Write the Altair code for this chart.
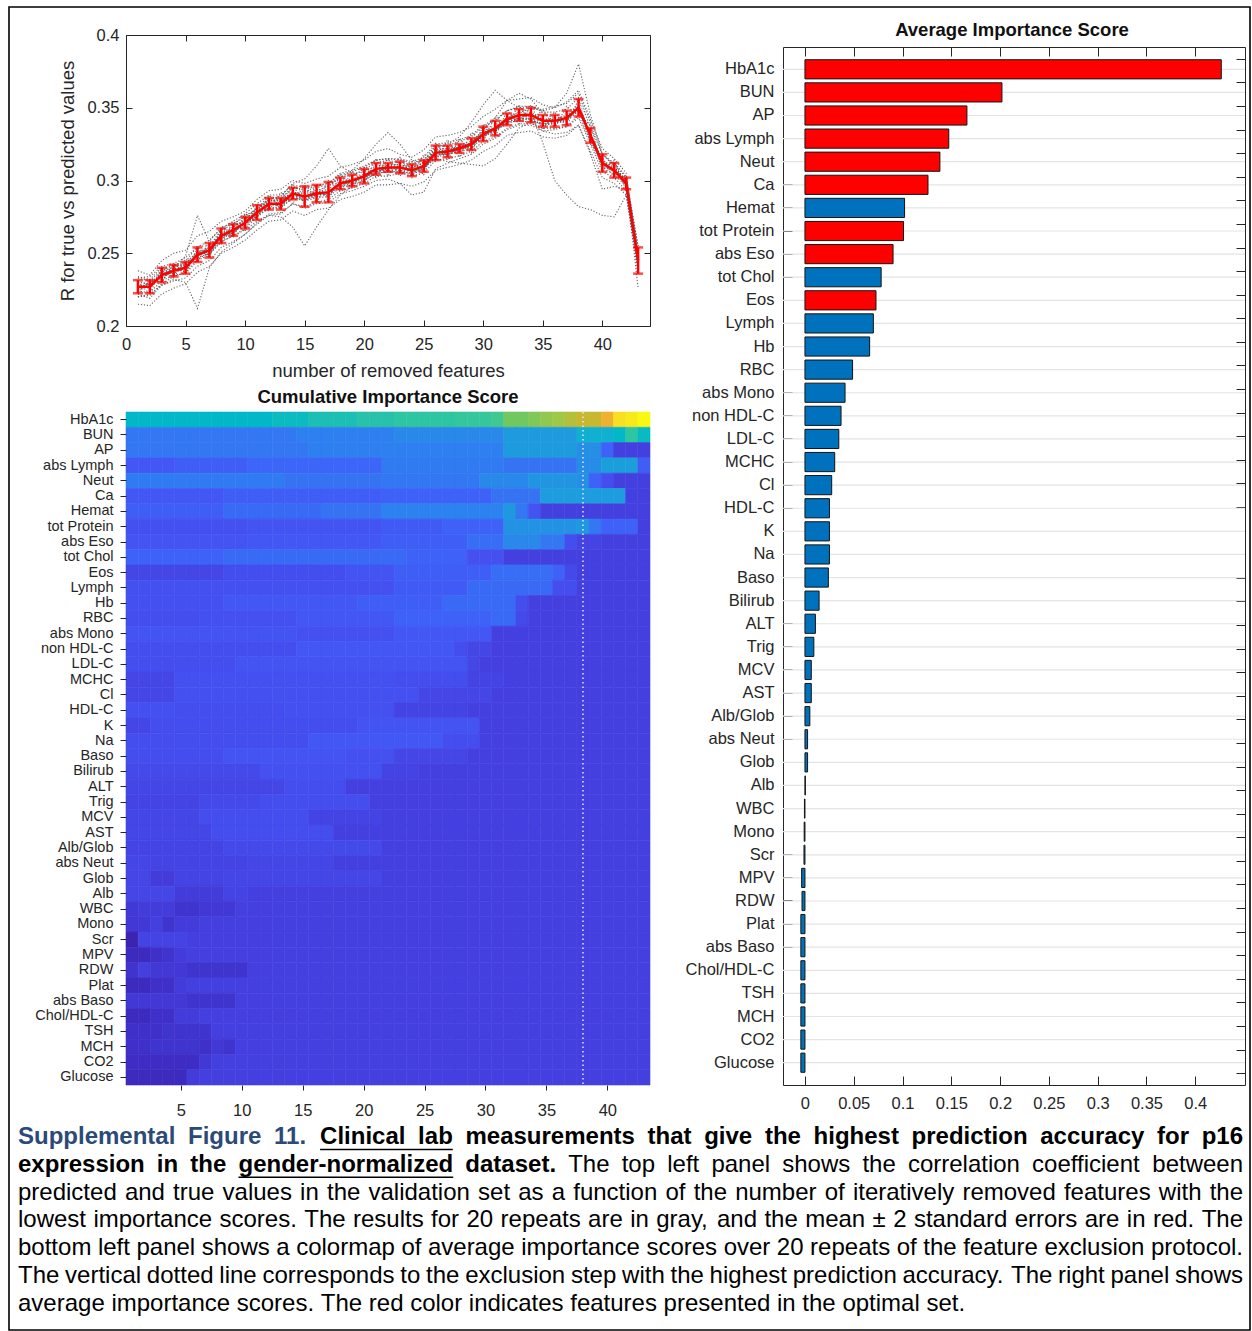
import altair as alt
import pandas as pd

W, H = 1252, 1331
FONT = "Liberation Sans"
INK = "#262626"

# ---------------- data ----------------
FEATURES = ["HbA1c", "BUN", "AP", "abs Lymph", "Neut", "Ca", "Hemat", "tot Protein", "abs Eso",
            "tot Chol", "Eos", "Lymph", "Hb", "RBC", "abs Mono", "non HDL-C", "LDL-C", "MCHC", "Cl",
            "HDL-C", "K", "Na", "Baso", "Bilirub", "ALT", "Trig", "MCV", "AST", "Alb/Glob", "abs Neut",
            "Glob", "Alb", "WBC", "Mono", "Scr", "MPV", "RDW", "Plat", "abs Baso", "Chol/HDL-C", "TSH",
            "MCH", "CO2", "Glucose"]

AVG_SCORE = [0.4267, 0.2019, 0.1660, 0.1474, 0.1383, 0.1261, 0.1021, 0.1010, 0.0903, 0.0781,
             0.0728, 0.0701, 0.0663, 0.0488, 0.0411, 0.0370, 0.0347, 0.0305, 0.0274, 0.0251,
             0.0251, 0.0251, 0.0240, 0.0145, 0.0107, 0.0091, 0.0065, 0.0065, 0.0050, 0.0027,
             0.0027, 0.0004, -0.0005, -0.0008, -0.0010, -0.0034, -0.0030, -0.0042, -0.0042,
             -0.0042, -0.0042, -0.0042, -0.0042, -0.0042]

OPTIMAL_SET = ["HbA1c", "BUN", "AP", "abs Lymph", "Neut", "Ca", "tot Protein", "abs Eso", "Eos"]

STEPS = list(range(1, 44))
MEAN_R = [0.227, 0.227, 0.235, 0.238, 0.240, 0.249, 0.252, 0.262, 0.266, 0.271, 0.278, 0.284,
          0.284, 0.291, 0.289, 0.291, 0.292, 0.298, 0.300, 0.303, 0.308, 0.309, 0.309, 0.307,
          0.310, 0.319, 0.320, 0.322, 0.325, 0.332, 0.336, 0.342, 0.345, 0.345, 0.341, 0.341,
          0.343, 0.350, 0.331, 0.312, 0.307, 0.298, 0.245]
ERR_2SE = [0.0045, 0.0045, 0.005, 0.004, 0.004, 0.005, 0.005, 0.005, 0.004, 0.004, 0.005, 0.004,
           0.004, 0.004, 0.007, 0.006, 0.007, 0.004, 0.004, 0.005, 0.004, 0.003, 0.004, 0.004,
           0.004, 0.005, 0.004, 0.003, 0.004, 0.005, 0.005, 0.004, 0.004, 0.005, 0.004, 0.004,
           0.005, 0.006, 0.005, 0.006, 0.005, 0.004, 0.009]

REPEATS = [
    [0.238,0.235,0.245,0.250,0.252,0.262,0.265,0.272,0.275,0.279,0.287,0.293,0.294,0.300,0.298,0.301,0.303,0.309,0.311,0.314,0.320,0.322,0.318,0.316,0.321,0.330,0.331,0.333,0.337,0.344,0.349,0.355,0.356,0.357,0.352,0.350,0.354,0.362,0.342,0.322,0.315,0.305,0.250],
    [0.215,0.214,0.222,0.226,0.229,0.237,0.241,0.250,0.254,0.259,0.266,0.272,0.273,0.279,0.276,0.280,0.281,0.287,0.289,0.292,0.297,0.297,0.298,0.296,0.299,0.307,0.309,0.311,0.314,0.320,0.324,0.331,0.333,0.334,0.330,0.329,0.331,0.338,0.320,0.302,0.298,0.290,0.238],
    [0.230,0.222,0.240,0.233,0.246,0.244,0.258,0.256,0.272,0.265,0.284,0.279,0.292,0.284,0.297,0.285,0.300,0.293,0.306,0.298,0.315,0.303,0.316,0.302,0.318,0.313,0.328,0.316,0.333,0.327,0.344,0.338,0.352,0.340,0.349,0.336,0.351,0.345,0.338,0.307,0.314,0.293,0.248],
    [0.224,0.229,0.231,0.240,0.237,0.251,0.249,0.264,0.263,0.274,0.275,0.286,0.281,0.293,0.286,0.294,0.289,0.300,0.297,0.305,0.305,0.311,0.306,0.309,0.307,0.321,0.317,0.324,0.322,0.334,0.333,0.344,0.342,0.347,0.326,0.300,0.290,0.282,0.280,0.276,0.275,0.290,0.240],
    [0.233,0.231,0.238,0.242,0.244,0.255,0.255,0.266,0.270,0.275,0.281,0.289,0.287,0.296,0.292,0.296,0.296,0.303,0.303,0.308,0.312,0.314,0.312,0.311,0.314,0.324,0.324,0.327,0.330,0.337,0.341,0.348,0.350,0.351,0.348,0.350,0.360,0.380,0.345,0.318,0.311,0.302,0.255],
    [0.228,0.226,0.238,0.240,0.248,0.276,0.258,0.268,0.270,0.276,0.280,0.287,0.286,0.290,0.286,0.290,0.292,0.296,0.300,0.302,0.306,0.308,0.310,0.306,0.309,0.318,0.318,0.320,0.324,0.330,0.335,0.340,0.343,0.342,0.338,0.340,0.341,0.349,0.330,0.310,0.306,0.297,0.243],
    [0.220,0.222,0.228,0.232,0.230,0.212,0.240,0.251,0.257,0.263,0.271,0.277,0.278,0.284,0.282,0.285,0.287,0.293,0.295,0.298,0.303,0.303,0.305,0.303,0.305,0.314,0.315,0.317,0.320,0.327,0.330,0.336,0.339,0.339,0.336,0.336,0.337,0.345,0.327,0.309,0.304,0.296,0.242],
    [0.226,0.230,0.234,0.239,0.242,0.248,0.252,0.261,0.267,0.270,0.279,0.283,0.286,0.290,0.292,0.293,0.296,0.302,0.307,0.315,0.325,0.333,0.325,0.314,0.312,0.321,0.322,0.324,0.327,0.334,0.338,0.343,0.347,0.346,0.342,0.342,0.345,0.352,0.333,0.314,0.309,0.300,0.247],
    [0.229,0.226,0.236,0.236,0.241,0.247,0.250,0.258,0.262,0.266,0.272,0.276,0.275,0.268,0.255,0.268,0.280,0.290,0.296,0.300,0.305,0.306,0.306,0.304,0.308,0.316,0.318,0.320,0.322,0.330,0.334,0.340,0.343,0.343,0.339,0.340,0.342,0.349,0.330,0.311,0.306,0.297,0.244],
    [0.231,0.228,0.236,0.238,0.238,0.249,0.254,0.263,0.268,0.273,0.281,0.287,0.289,0.298,0.301,0.310,0.322,0.310,0.305,0.306,0.310,0.311,0.311,0.309,0.312,0.320,0.321,0.323,0.326,0.333,0.336,0.342,0.345,0.345,0.342,0.342,0.343,0.350,0.331,0.312,0.307,0.298,0.246],
    [0.226,0.229,0.234,0.237,0.241,0.250,0.251,0.260,0.264,0.271,0.277,0.283,0.283,0.290,0.289,0.290,0.291,0.297,0.299,0.302,0.307,0.308,0.310,0.308,0.312,0.322,0.325,0.330,0.340,0.352,0.362,0.355,0.350,0.347,0.342,0.340,0.342,0.350,0.331,0.312,0.308,0.299,0.246],
    [0.222,0.219,0.228,0.231,0.233,0.241,0.245,0.254,0.258,0.263,0.270,0.276,0.277,0.284,0.281,0.284,0.285,0.291,0.293,0.296,0.300,0.301,0.298,0.290,0.292,0.308,0.312,0.315,0.318,0.325,0.329,0.335,0.338,0.338,0.334,0.335,0.337,0.343,0.325,0.306,0.302,0.293,0.241],
    [0.233,0.234,0.241,0.243,0.247,0.254,0.259,0.267,0.272,0.277,0.284,0.290,0.290,0.297,0.295,0.297,0.298,0.304,0.306,0.309,0.314,0.315,0.315,0.313,0.316,0.325,0.326,0.328,0.331,0.338,0.342,0.348,0.351,0.351,0.347,0.347,0.349,0.357,0.337,0.318,0.312,0.303,0.251],
    [0.228,0.226,0.236,0.239,0.239,0.250,0.253,0.261,0.265,0.270,0.276,0.283,0.284,0.289,0.288,0.290,0.291,0.298,0.299,0.302,0.307,0.308,0.309,0.306,0.309,0.315,0.313,0.312,0.311,0.310,0.315,0.325,0.336,0.340,0.339,0.341,0.342,0.350,0.332,0.313,0.306,0.297,0.244],
    [0.225,0.228,0.233,0.238,0.242,0.248,0.253,0.263,0.264,0.272,0.279,0.283,0.285,0.292,0.289,0.292,0.291,0.299,0.300,0.303,0.308,0.309,0.308,0.307,0.310,0.319,0.321,0.322,0.326,0.335,0.343,0.355,0.360,0.356,0.346,0.343,0.344,0.351,0.331,0.313,0.307,0.298,0.245],
    [0.222,0.232,0.230,0.243,0.236,0.254,0.247,0.268,0.261,0.277,0.274,0.290,0.280,0.297,0.284,0.297,0.287,0.304,0.295,0.309,0.302,0.315,0.303,0.313,0.304,0.326,0.314,0.329,0.319,0.338,0.330,0.348,0.339,0.352,0.335,0.347,0.337,0.356,0.325,0.316,0.301,0.303,0.242],
    [0.224,0.223,0.231,0.235,0.236,0.245,0.249,0.258,0.262,0.267,0.275,0.281,0.281,0.288,0.286,0.288,0.289,0.295,0.297,0.300,0.305,0.306,0.306,0.305,0.308,0.317,0.319,0.321,0.324,0.331,0.336,0.343,0.347,0.349,0.349,0.351,0.353,0.360,0.340,0.318,0.310,0.300,0.249],
    [0.230,0.229,0.237,0.240,0.243,0.251,0.254,0.264,0.268,0.273,0.280,0.286,0.286,0.292,0.291,0.292,0.294,0.300,0.301,0.304,0.309,0.310,0.311,0.309,0.312,0.320,0.321,0.323,0.326,0.332,0.335,0.340,0.341,0.340,0.334,0.332,0.333,0.338,0.318,0.294,0.296,0.294,0.236],
    [0.220,0.221,0.229,0.234,0.237,0.246,0.250,0.260,0.265,0.271,0.279,0.286,0.287,0.295,0.294,0.296,0.298,0.305,0.307,0.310,0.314,0.315,0.314,0.312,0.314,0.322,0.322,0.323,0.325,0.331,0.334,0.339,0.342,0.342,0.338,0.339,0.341,0.348,0.328,0.311,0.307,0.299,0.226],
    [0.234,0.232,0.240,0.241,0.243,0.251,0.253,0.262,0.265,0.269,0.276,0.281,0.282,0.288,0.287,0.289,0.290,0.296,0.298,0.301,0.306,0.307,0.307,0.305,0.309,0.317,0.319,0.321,0.324,0.331,0.335,0.341,0.344,0.344,0.341,0.341,0.343,0.351,0.332,0.313,0.309,0.300,0.255],
]

# cumulative importance score per feature row, as runs of (number of steps, score) over steps 1..43
HEAT_RUNS = [
    [(12,50),(3,53),(4,57),(3,60),(5,62),(3,64),(1,66),(2,72),(1,74),(1,76),(1,78),(1,81),(2,84),(1,90),(1,95),(1,97),(1,100)],
    [(14,25),(8,27),(9,30),(6,36),(3,45),(1,50),(1,62),(1,52)],
    [(15,25),(16,27),(6,36),(2,32),(1,20),(3,10)],
    [(4,17),(6,19),(11,21),(10,26),(6,24),(2,31),(3,38),(1,19)],
    [(13,26),(8,24),(8,25),(4,30),(4,34),(1,32),(1,20),(1,14),(3,10)],
    [(8,17),(13,19),(9,20),(4,24),(7,37),(2,10)],
    [(8,19),(8,22),(5,24),(10,28),(1,35),(1,25),(1,16),(9,10)],
    [(10,15),(11,16),(5,18),(5,20),(6,33),(1,35),(1,25),(3,20),(1,10)],
    [(10,16),(11,17),(7,19),(3,23),(3,30),(2,25),(1,14),(2,11),(4,10)],
    [(8,20),(15,22),(5,20),(3,15),(12,10)],
    [(8,12),(10,14),(4,16),(8,19),(5,23),(1,20),(1,13),(6,10)],
    [(22,15),(6,18),(7,22),(2,14),(6,10)],
    [(8,15),(11,17),(7,19),(6,22),(1,14),(10,10)],
    [(6,14),(8,15),(8,17),(8,20),(2,22),(1,13),(10,10)],
    [(14,16),(8,15),(8,17),(13,10)],
    [(14,14),(13,17),(1,14),(2,12),(13,10)],
    [(9,14),(19,16),(1,12),(14,10)],
    [(4,12),(18,15),(6,14),(3,11),(12,10)],
    [(4,12),(20,15),(6,12),(13,10)],
    [(4,15),(9,14),(9,15),(6,11),(15,10)],
    [(2,12),(17,14),(10,16),(14,10)],
    [(15,14),(11,17),(3,14),(14,10)],
    [(8,14),(10,16),(4,15),(6,12),(15,10)],
    [(11,13),(10,15),(3,11),(19,10)],
    [(13,12),(5,14),(25,10)],
    [(6,11),(5,13),(9,14),(23,10)],
    [(6,12),(9,14),(6,11),(22,10)],
    [(7,12),(10,14),(26,10)],
    [(8,11),(13,13),(22,10)],
    [(2,12),(8,11),(7,12),(26,10)],
    [(2,12),(2,9),(4,11),(13,12),(22,10)],
    [(4,12),(4,9),(2,11),(33,10)],
    [(1,8),(3,9),(2,7),(3,8),(34,10)],
    [(2,8),(1,10),(1,7),(2,9),(37,10)],
    [(1,1),(4,11),(38,10)],
    [(2,4),(1,6),(1,7),(1,9),(38,10)],
    [(1,7),(1,10),(3,8),(5,7),(33,10)],
    [(2,4),(2,6),(1,9),(38,10)],
    [(5,8),(4,7),(34,10)],
    [(2,4),(2,6),(2,9),(37,10)],
    [(3,6),(4,7),(36,10)],
    [(2,6),(4,7),(1,6),(1,8),(1,7),(34,10)],
    [(6,5),(1,8),(36,10)],
    [(5,4),(1,9),(37,10)],
]

CAPTION_LINES = [
    [("Supplemental Figure 11.", "blue", False), ("Clinical lab", "bold", True),
     ("measurements that give the highest prediction accuracy for p16", "bold", False)],
    [("expression in the", "bold", False), ("gender-normalized", "bold", True), ("dataset.", "bold", False),
     ("The top left panel shows the correlation coefficient between", "normal", False)],
    [("predicted and true values in the validation set as a function of the number of iteratively removed features with the", "normal", False)],
    [("lowest importance scores. The results for 20 repeats are in gray, and the mean \u00b1 2 standard errors are in red. The", "normal", False)],
    [("bottom left panel shows a colormap of average importance scores over 20 repeats of the feature exclusion protocol.", "normal", False)],
    [("The vertical dotted line corresponds to the exclusion step with the highest prediction accuracy. The right panel shows", "normal", False)],
    [("average importance scores. The red color indicates features presented in the optimal set.", "normal", False)],
]

# ---------------- styles ----------------
PARULA_STOPS = [0, 5, 10, 15, 20, 27, 35, 45, 50, 58, 65, 72, 78, 84, 90, 95, 100]
PARULA_COLORS = ["#3b22a8", "#3e2cc4", "#4440e0", "#4450f0", "#3e62f8", "#2e7ff0", "#2098e0",
                 "#10b0d0", "#00b8c8", "#20c0b0", "#38c898", "#70c860", "#a0c848", "#c8b830",
                 "#f0b030", "#f8e020", "#f8f810"]


def ax(orient, offset, values=None, labels=False, ticks=False, domain=False, tick_size=0,
       pad=None, title=None, title_pad=None, fmt=None, label_size=None):
    kw = dict(orient=orient, offset=offset, labels=labels, ticks=ticks, domain=domain,
              tickSize=tick_size, grid=False, labelFlush=False, labelOverlap=False, title=title)
    if values is not None:
        kw["values"] = values
    if pad is not None:
        kw["labelPadding"] = pad
    if title_pad is not None:
        kw["titlePadding"] = title_pad
    if fmt is not None:
        kw["format"] = fmt
    if label_size is not None:
        kw["labelFontSize"] = label_size
    return alt.Axis(**kw)


def lin(d0, d1, r0, r1):
    return alt.Scale(domain=[d0, d1], range=[r0, r1], nice=False, zero=False)


layers = []

# ---------------- frame ----------------
one = pd.DataFrame({"k": [0]})
layers.append(alt.Chart(one).mark_rect(fillOpacity=0, stroke="black", strokeWidth=1.6).encode(
    x=alt.value(9), x2=alt.value(1250), y=alt.value(7), y2=alt.value(1330)))

# ---------------- top-left: R vs removed features ----------------
LX = lin(0, 44, 126, 650)
LY = lin(0.2, 0.4, 326, 35)
xt = [0, 5, 10, 15, 20, 25, 30, 35, 40]
yt = [0.2, 0.25, 0.3, 0.35, 0.4]

rep_df = pd.DataFrame([{"rep": i, "step": s, "r": v}
                       for i, rep in enumerate(REPEATS) for s, v in zip(STEPS, rep)])
mean_df = pd.DataFrame({"step": STEPS, "r": MEAN_R, "e": ERR_2SE})
mean_df["lo"] = mean_df.r - mean_df.e
mean_df["hi"] = mean_df.r + mean_df.e

layers.append(alt.Chart(rep_df).mark_line(color="#555555", strokeWidth=1.1, strokeDash=[1.2, 1.8],
                                          opacity=0.9).encode(
    x=alt.X("step:Q", scale=LX, axis=ax("bottom", -(H - 326), xt, labels=True, pad=10, fmt="d",
                                         title="number of removed features", title_pad=9)),
    y=alt.Y("r:Q", scale=LY, axis=ax("left", -126, yt, labels=True, pad=7, fmt="~g",
                                     title="R for true vs predicted values", title_pad=9)),
    detail="rep:N"))
layers.append(alt.Chart(mean_df).mark_line(color="#ff0000", strokeWidth=2.5).encode(
    x=alt.X("step:Q", scale=LX, axis=ax("top", -326, xt, ticks=True, domain=True, tick_size=6)),
    y=alt.Y("r:Q", scale=LY, axis=ax("right", -(W - 126), yt, ticks=True, domain=True, tick_size=6))))
layers.append(alt.Chart(mean_df).mark_rule(color="#ff0000", strokeWidth=2.5).encode(
    x=alt.X("step:Q", scale=LX, axis=ax("bottom", -(H - 35), xt, ticks=True, domain=True, tick_size=6)),
    y=alt.Y("lo:Q", scale=LY, axis=ax("left", -650, yt, ticks=True, domain=True, tick_size=6)),
    y2="hi:Q"))
for fld in ["lo", "hi"]:
    layers.append(alt.Chart(mean_df).mark_tick(color="#ff0000", orient="horizontal", size=10,
                                               thickness=2.5).encode(
        x=alt.X("step:Q", scale=LX, axis=None),
        y=alt.Y(f"{fld}:Q", scale=LY, axis=None)))

# ---------------- bottom-left: cumulative importance heatmap ----------------
heat_rows = []
for feat, runs in zip(FEATURES, HEAT_RUNS):
    step = 1
    for n, v in runs:
        for _ in range(n):
            heat_rows.append({"feature": feat, "step": step, "score": v})
            step += 1
heat = pd.DataFrame(heat_rows)
heat["x0"] = heat.step - 0.5
heat["x1"] = heat.step + 0.5

HX = lin(0.5, 43.5, 126, 650)
HY = alt.Scale(domain=FEATURES, range=[412, 1085], paddingInner=0, paddingOuter=0)
HC = alt.Scale(domain=PARULA_STOPS, range=PARULA_COLORS, interpolate="rgb")

layers.append(alt.Chart(heat).mark_rect(strokeWidth=0.6).encode(
    x=alt.X("x0:Q", scale=HX, axis=ax("bottom", -(H - 1085), [5, 10, 15, 20, 25, 30, 35, 40],
                                      labels=True, ticks=True, tick_size=5, pad=12, fmt="d")),
    x2="x1:Q",
    y=alt.Y("feature:N", scale=HY, sort=FEATURES,
            axis=ax("left", -126, labels=True, ticks=True, tick_size=6, pad=7, label_size=14.5)),
    color=alt.Color("score:Q", scale=HC, legend=None),
    stroke=alt.Stroke("score:Q", scale=HC, legend=None)))

BEST_STEP = STEPS[MEAN_R.index(max(MEAN_R))]
layers.append(alt.Chart(pd.DataFrame({"step": [BEST_STEP]})).mark_rule(
    color="#e6e6ff", strokeWidth=1.5, strokeDash=[1.5, 3]).encode(
    x=alt.X("step:Q", scale=HX, axis=None), y=alt.value(412), y2=alt.value(1085)))

layers.append(alt.Chart(one).mark_text(text="Cumulative Importance Score", font=FONT, fontSize=18.5,
                                       fontWeight="bold", color="#111111", baseline="middle").encode(
    x=alt.value(388), y=alt.value(397)))

# ---------------- right: average importance bars ----------------
bar_df = pd.DataFrame({"feature": FEATURES, "score": AVG_SCORE,
                       "optimal": ["yes" if f in OPTIMAL_SET else "no" for f in FEATURES]})
BX = lin(-0.0225, 0.451, 783, 1245)
BY = alt.Scale(domain=FEATURES, range=[47, 1085], paddingInner=0.17, paddingOuter=0.55)
bxt = [0, 0.05, 0.1, 0.15, 0.2, 0.25, 0.3, 0.35, 0.4]

layers.append(alt.Chart(bar_df).mark_rule(color="#e4e4e4", strokeWidth=1.2).encode(
    y=alt.Y("feature:N", scale=BY, sort=FEATURES,
            axis=ax("left", -783, labels=True, pad=9, label_size=16.5)),
    x=alt.value(783), x2=alt.value(1245)))
layers.append(alt.Chart(bar_df).mark_bar(stroke="#141414", strokeWidth=1).encode(
    x=alt.X("score:Q", scale=BX, axis=ax("bottom", -(H - 1085), bxt, labels=True, pad=10, fmt="~g")),
    x2=alt.datum(0),
    y=alt.Y("feature:N", scale=BY, sort=FEATURES,
            axis=ax("right", -(W - 783), ticks=True, domain=True, tick_size=9)),
    color=alt.Color("optimal:N", scale=alt.Scale(domain=["yes", "no"], range=["#ff0000", "#0072bd"]),
                    legend=None)))
layers.append(alt.Chart(bar_df).mark_point(opacity=0).encode(
    x=alt.X("score:Q", scale=BX, axis=ax("top", -1085, bxt, ticks=True, domain=True, tick_size=9)),
    y=alt.Y("feature:N", scale=BY, sort=FEATURES,
            axis=ax("left", -1245, ticks=True, domain=True, tick_size=9))))
layers.append(alt.Chart(bar_df).mark_point(opacity=0).encode(
    x=alt.X("score:Q", scale=BX, axis=ax("bottom", -(H - 47), bxt, ticks=True, domain=True, tick_size=9)),
    y=alt.Y("feature:N", scale=BY, sort=FEATURES, axis=None)))

layers.append(alt.Chart(one).mark_text(text="Average Importance Score", font=FONT, fontSize=18.5,
                                       fontWeight="bold", color="#111111", baseline="middle").encode(
    x=alt.value(1012), y=alt.value(30)))

# ---------------- caption (justified text layout from Arial metrics) ----------------
LOW = "abcdefghijklmnopqrstuvwxyz"
UP = "ABCDEFGHIJKLMNOPQRSTUVWXYZ"
REG_W = dict(zip(LOW, [556, 556, 500, 556, 556, 278, 556, 556, 222, 222, 500, 222, 833, 556, 556, 556,
                       556, 333, 500, 278, 556, 500, 722, 500, 500, 500]))
REG_W.update(zip(UP, [667, 667, 722, 722, 667, 611, 778, 722, 278, 500, 667, 556, 833, 722, 778, 667,
                      778, 722, 667, 611, 722, 667, 944, 667, 667, 611]))
BOLD_W = dict(zip(LOW, [556, 611, 556, 611, 556, 333, 611, 611, 278, 278, 556, 278, 889, 611, 611, 611,
                        611, 389, 556, 333, 611, 556, 778, 556, 556, 500]))
BOLD_W.update(zip(UP, [722, 722, 722, 722, 667, 611, 778, 722, 278, 556, 722, 611, 833, 722, 778, 667,
                       778, 722, 667, 611, 722, 667, 944, 667, 667, 611]))
for tbl in (REG_W, BOLD_W):
    tbl.update({c: 556 for c in "0123456789"})
    tbl.update({" ": 278, ".": 278, ",": 278, "-": 333, "/": 278, "\u00b1": 549})

FS = 24
CAP_X0, CAP_X1, CAP_Y0, CAP_DY = 18, 1243, 1137, 27.8


def text_w(s, bold):
    t = BOLD_W if bold else REG_W
    return sum(t.get(c, 556) for c in s) * FS / 1000.0


words, unders = [], []
for li, segs in enumerate(CAPTION_LINES):
    items = []
    for si, (txt, style, ul) in enumerate(segs):
        for w in txt.split(" "):
            items.append((w, style, si if ul else None))
    widths = [text_w(w, st != "normal") for w, st, _ in items]
    if li < len(CAPTION_LINES) - 1:
        gap = (CAP_X1 - CAP_X0 - sum(widths)) / (len(items) - 1)
    else:
        gap = text_w(" ", False)
    x = CAP_X0
    y = CAP_Y0 + li * CAP_DY
    ul_ext = {}
    for (w, st, ug), wd in zip(items, widths):
        words.append({"word": w, "style": st, "px": x, "py": y})
        if ug is not None:
            a, b = ul_ext.get(ug, (x, x + wd))
            ul_ext[ug] = (min(a, x), max(b, x + wd))
        x += wd + gap
    for a, b in ul_ext.values():
        unders.append({"px": a, "px2": b, "py": y + 12.5})

words_df = pd.DataFrame(words)
CX = lin(0, W, 0, W)
CY = lin(0, H, 0, H)
for style, weight, color in [("normal", "normal", "#000000"), ("bold", "bold", "#000000"),
                             ("blue", "bold", "#2b4a78")]:
    sub = words_df[words_df["style"] == style]
    layers.append(alt.Chart(sub).mark_text(align="left", baseline="middle", font=FONT, fontSize=FS,
                                           fontWeight=weight, color=color).encode(
        x=alt.X("px:Q", scale=CX, axis=None), y=alt.Y("py:Q", scale=CY, axis=None), text="word:N"))
layers.append(alt.Chart(pd.DataFrame(unders)).mark_rule(color="black", strokeWidth=1.6).encode(
    x=alt.X("px:Q", scale=CX, axis=None), x2="px2:Q", y=alt.Y("py:Q", scale=CY, axis=None)))

# ---------------- assemble ----------------
chart = alt.layer(*layers).resolve_scale(
    x="independent", y="independent", color="independent", stroke="independent"
).resolve_axis(x="independent", y="independent").properties(
    width=W, height=H, autosize=alt.AutoSizeParams(type="none"), padding=0, background="white"
).configure_view(stroke=None).configure_axis(
    labelFont=FONT, labelFontSize=16.5, labelColor=INK, titleFont=FONT, titleFontSize=18.5,
    titleFontWeight="normal", titleColor=INK, domainColor=INK, tickColor=INK, domainWidth=1,
    tickWidth=1)

chart.save("out.html", embed_options={"renderer": "svg", "actions": False})
